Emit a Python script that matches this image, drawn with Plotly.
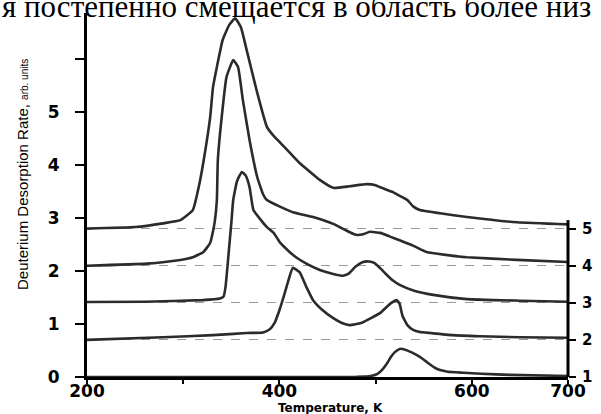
import plotly.graph_objects as go

# ---- data ----
curve_labels = ["1", "2", "3", "4", "5"]
baseline_offsets = [0.0, 0.7, 1.4, 2.1, 2.8]

t1 = [200, 300, 400, 480, 495, 502, 507, 512, 516, 520, 525, 530, 538, 546, 552, 557, 562, 567, 575, 591, 610, 640, 700]
v1 = [0, 0, 0, 0.005, 0.02, 0.06, 0.14, 0.26, 0.38, 0.47, 0.53, 0.52, 0.46, 0.38, 0.3, 0.23, 0.17, 0.13, 0.1, 0.08, 0.06, 0.04, 0.02]

t2 = [200, 279, 331, 366, 383, 390, 395, 400, 405, 409, 414, 421, 428, 435, 445, 456, 465, 473, 485, 497, 505, 515, 522, 525, 528, 533, 539, 546, 557, 580, 608, 650, 700]
v2 = [0, 0.05, 0.09, 0.13, 0.14, 0.2, 0.32, 0.56, 0.85, 1.1, 1.36, 1.28, 1.0, 0.75, 0.56, 0.41, 0.32, 0.28, 0.32, 0.43, 0.51, 0.68, 0.75, 0.68, 0.45, 0.28, 0.19, 0.15, 0.13, 0.09, 0.07, 0.05, 0.04]

t3 = [200, 260, 320, 338, 342, 344, 346, 348, 350, 352, 356, 361, 365, 369, 373, 380, 387, 394, 401, 410, 418, 430, 442, 455, 466, 472, 479, 487, 493, 499, 505, 512, 518, 525, 540, 560, 595, 650, 700]
v3 = [0.015, 0.02, 0.05, 0.08, 0.12, 0.3, 0.68, 1.1, 1.5, 1.94, 2.3, 2.47, 2.4, 2.18, 1.75, 1.58, 1.43, 1.32, 1.13, 0.97, 0.85, 0.72, 0.62, 0.55, 0.51, 0.55, 0.68, 0.77, 0.78, 0.75, 0.65, 0.52, 0.42, 0.34, 0.23, 0.15, 0.07, 0.04, 0.02]

t4 = [200, 262, 297, 310, 321, 328, 331, 333, 335, 336, 340, 345, 352, 357, 362, 369, 377, 383, 387, 400, 414, 435, 456, 470, 477, 481, 488, 494, 505, 515, 525, 540, 553, 575, 595, 647, 700]
v4 = [0, 0.04, 0.11, 0.16, 0.26, 0.43, 0.65, 0.86, 1.24, 1.99, 2.8, 3.56, 3.88, 3.75, 3.13, 2.37, 1.67, 1.35, 1.24, 1.12, 1.01, 0.92, 0.79, 0.66, 0.6, 0.58, 0.6, 0.64, 0.62, 0.55, 0.48, 0.37, 0.26, 0.2, 0.16, 0.11, 0.07]

t5 = [200, 250, 279, 297, 310, 317, 323, 328, 331, 335, 341, 348, 354, 360, 366, 371, 377, 387, 394, 401, 410, 421, 432, 442, 456, 473, 491, 500, 505, 518, 525, 533, 539, 546, 567, 595, 647, 700]
v5 = [0, 0.03, 0.1, 0.16, 0.35, 0.86, 1.48, 2.1, 2.67, 3.05, 3.56, 3.85, 3.97, 3.8, 3.37, 3.0, 2.56, 1.92, 1.75, 1.62, 1.45, 1.24, 1.07, 0.92, 0.77, 0.8, 0.84, 0.82, 0.78, 0.69, 0.62, 0.54, 0.42, 0.35, 0.29, 0.22, 0.12, 0.08]

temps = [t1, t2, t3, t4, t5]
rates = [v1, v2, v3, v4, v5]

x_tickvals = [200, 300, 400, 500, 600, 700]
x_ticktext = ["200", "", "400", "", "600", "700"]
y_tickvals = [0, 1, 2, 3, 4, 5, 6]
y_ticktext = ["0", "1", "2", "3", "4", "5", ""]
right_tickvals = [1, 2, 3, 4, 5]
right_ticktext = ["1", "2", "3", "4", "5"]

x_title = "Temperature, K"
y_title = "Deuterium Desorption Rate, <span style='font-size:10px'>arb. units</span>"
caption = "я постепенно смещается в область более низ"

# ---- geometry helpers (pixels -> paper) ----
W, H = 601, 414
ML, MR, MT, MB = 87, 33, 13, 37
PW, PH = W - ML - MR, H - MT - MB
Y_TOP = 6.87                 # left-axis value at the top of the plot
RIGHT_PER_LEFT = 0.7         # one curve number = 0.7 rate units
right_top = 1 + Y_TOP / RIGHT_PER_LEFT


def px_x(px):
    return (px - ML) / PW


def px_y(py):
    return (H - MB - py) / PH


# ---- figure ----
fig = go.Figure()
for t, v, off in zip(temps, rates, baseline_offsets):
    fig.add_trace(go.Scatter(
        x=t, y=[val + off for val in v], mode="lines",
        line=dict(color="#2b2b2b", width=2.6, shape="spline", smoothing=0.4),
        showlegend=False, hoverinfo="skip"))

# dummy trace so the right-hand curve-number axis is drawn
fig.add_trace(go.Scatter(x=[200], y=[1], yaxis="y2", mode="markers",
                         marker=dict(size=0.1, opacity=0), showlegend=False, hoverinfo="skip"))

tick_font = dict(family="DejaVu Sans", size=17, color="black", weight="bold")
right_tick_font = dict(family="DejaVu Sans", size=15, color="black", weight="bold")

fig.update_layout(
    width=W, height=H,
    margin=dict(l=ML, r=MR, t=MT, b=MB),
    paper_bgcolor="white", plot_bgcolor="white",
    hovermode=False,
    xaxis=dict(
        range=[200, 700], tickvals=x_tickvals, ticktext=x_ticktext,
        ticks="outside", ticklen=4, tickwidth=2, tickcolor="black",
        showline=True, linewidth=3, linecolor="black", automargin=False,
        showgrid=False, zeroline=False, tickfont=tick_font, ticklabelstandoff=-7,
    ),
    yaxis=dict(
        range=[0, Y_TOP], tickvals=y_tickvals, ticktext=y_ticktext,
        ticks="outside", ticklen=9, tickwidth=2, tickcolor="black",
        showline=True, linewidth=3, linecolor="black", automargin=False,
        showgrid=False, zeroline=False, tickfont=tick_font, ticklabelstandoff=12,
    ),
    yaxis2=dict(
        overlaying="y", side="right", anchor="x",
        range=[1, right_top], tickvals=right_tickvals, ticktext=right_ticktext,
        ticks="outside", ticklen=7, tickwidth=2, tickcolor="black",
        showline=False, automargin=False,
        showgrid=True, gridcolor="#9a9a9a", gridwidth=1, griddash="dash",
        zeroline=False, tickfont=right_tick_font, ticklabelstandoff=3,
    ),
    shapes=[dict(type="line", xref="paper", yref="y2", x0=1, x1=1,
                 y0=right_tickvals[0] - 0.05, y1=right_tickvals[-1] + 0.23,
                 line=dict(color="black", width=3))],
    annotations=[
        dict(text=caption, xref="paper", yref="paper",
             x=px_x(0), y=px_y(26), xanchor="left", yanchor="bottom", showarrow=False,
             font=dict(family="Liberation Serif, Times New Roman, serif", size=31, color="black")),
        dict(text=x_title, xref="paper", yref="paper",
             x=px_x(330), y=px_y(408), xanchor="center", yanchor="middle", showarrow=False,
             font=dict(family="DejaVu Sans", size=12, color="black", weight="bold")),
        dict(text=y_title, xref="paper", yref="paper", textangle=-90,
             x=px_x(22), y=px_y(175), xanchor="center", yanchor="middle", showarrow=False,
             font=dict(family="Liberation Sans Narrow, Liberation Sans, Arial", size=15, color="black")),
    ],
)

# remove the browser's default 8px page margin so the figure starts at the window corner
fig.write_html("out.html", config={"displayModeBar": False},
               post_script="document.body.style.margin='0';")
